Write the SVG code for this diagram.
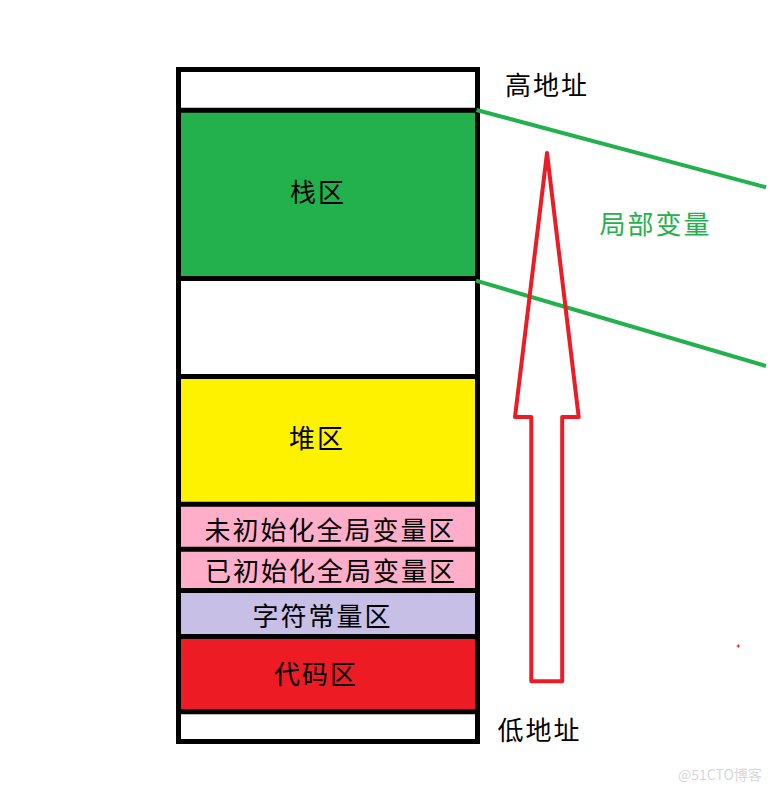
<svg xmlns="http://www.w3.org/2000/svg" width="774" height="791" viewBox="0 0 774 791">
<style>
.t{font-family:"Noto Sans CJK SC","Noto Sans CJK JP",sans-serif;font-size:26px;letter-spacing:2px;fill:#000;text-anchor:middle}
.l{font-family:"Noto Sans CJK SC","Noto Sans CJK JP",sans-serif;font-size:26px;letter-spacing:2px;fill:#000}
.div{stroke:#000;stroke-width:5}
</style>
<rect width="774" height="791" fill="#fff"/>
<g id="memory">
  <g id="top-blank"><rect x="178.5" y="69.5" width="299" height="40.7" fill="#fff"/></g>
  <g id="stack"><rect x="178.5" y="110.2" width="299" height="168.3" fill="#22b14c"/><text class="t" x="318" y="201.5">栈区</text></g>
  <g id="gap"><rect x="178.5" y="278.5" width="299" height="98" fill="#fff"/></g>
  <g id="heap"><rect x="178.5" y="376.5" width="299" height="127.7" fill="#fff200"/><text class="t" x="317" y="448">堆区</text></g>
  <g id="bss"><rect x="178.5" y="504.2" width="299" height="45" fill="#ffaec9"/><text class="t" x="330.5" y="539.5">未初始化全局变量区</text></g>
  <g id="data"><rect x="178.5" y="549.2" width="299" height="41.3" fill="#ffaec9"/><text class="t" x="331" y="580.5">已初始化全局变量区</text></g>
  <g id="rodata"><rect x="178.5" y="590.5" width="299" height="46" fill="#c8bfe7"/><text class="t" x="322.5" y="625.5">字符常量区</text></g>
  <g id="code"><rect x="178.5" y="636.5" width="299" height="75.2" fill="#ed1c24"/><text class="t" x="316" y="684">代码区</text></g>
  <g id="bottom-blank"><rect x="178.5" y="711.7" width="299" height="29.8" fill="#fff"/></g>
  <rect x="178.5" y="69.5" width="299" height="672" fill="none" stroke="#000" stroke-width="5"/>
  <line class="div" x1="176" y1="110.2" x2="480" y2="110.2"/>
  <line class="div" x1="176" y1="278.5" x2="480" y2="278.5"/>
  <line class="div" x1="176" y1="376.5" x2="480" y2="376.5"/>
  <line class="div" x1="176" y1="504.2" x2="480" y2="504.2"/>
  <line class="div" x1="176" y1="549.2" x2="480" y2="549.2"/>
  <line class="div" x1="176" y1="590.5" x2="480" y2="590.5"/>
  <line class="div" x1="176" y1="636.5" x2="480" y2="636.5"/>
  <line class="div" x1="176" y1="711.7" x2="480" y2="711.7"/>
</g>
<g id="labels">
  <text class="l" x="505" y="94.5">高地址</text>
  <text class="l" x="497.5" y="739.5">低地址</text>
  <text class="l" x="599.5" y="233.5" style="fill:#22b14c">局部变量</text>
</g>
<g id="connectors" fill="none">
  <line x1="476.5" y1="110" x2="766" y2="187.3" stroke="#22b14c" stroke-width="4"/>
  <line x1="476" y1="280.7" x2="766" y2="366" stroke="#22b14c" stroke-width="4"/>
  <polygon points="547,153 578.7,417 562.2,417 562.2,681.3 531.3,681.3 531.3,417 515,417" stroke="#ed1c24" stroke-width="4" stroke-linejoin="round"/>
</g>
<g id="misc">
  <path d="M736.5 646h3.5M738.3 644.3v3.5" stroke="#ed1c24" stroke-width="1"/>
  <text x="678" y="780" style="font-family:'Noto Sans CJK SC',sans-serif;font-size:14px;fill:#d8d8d8">@51CTO博客</text>
</g>
</svg>
